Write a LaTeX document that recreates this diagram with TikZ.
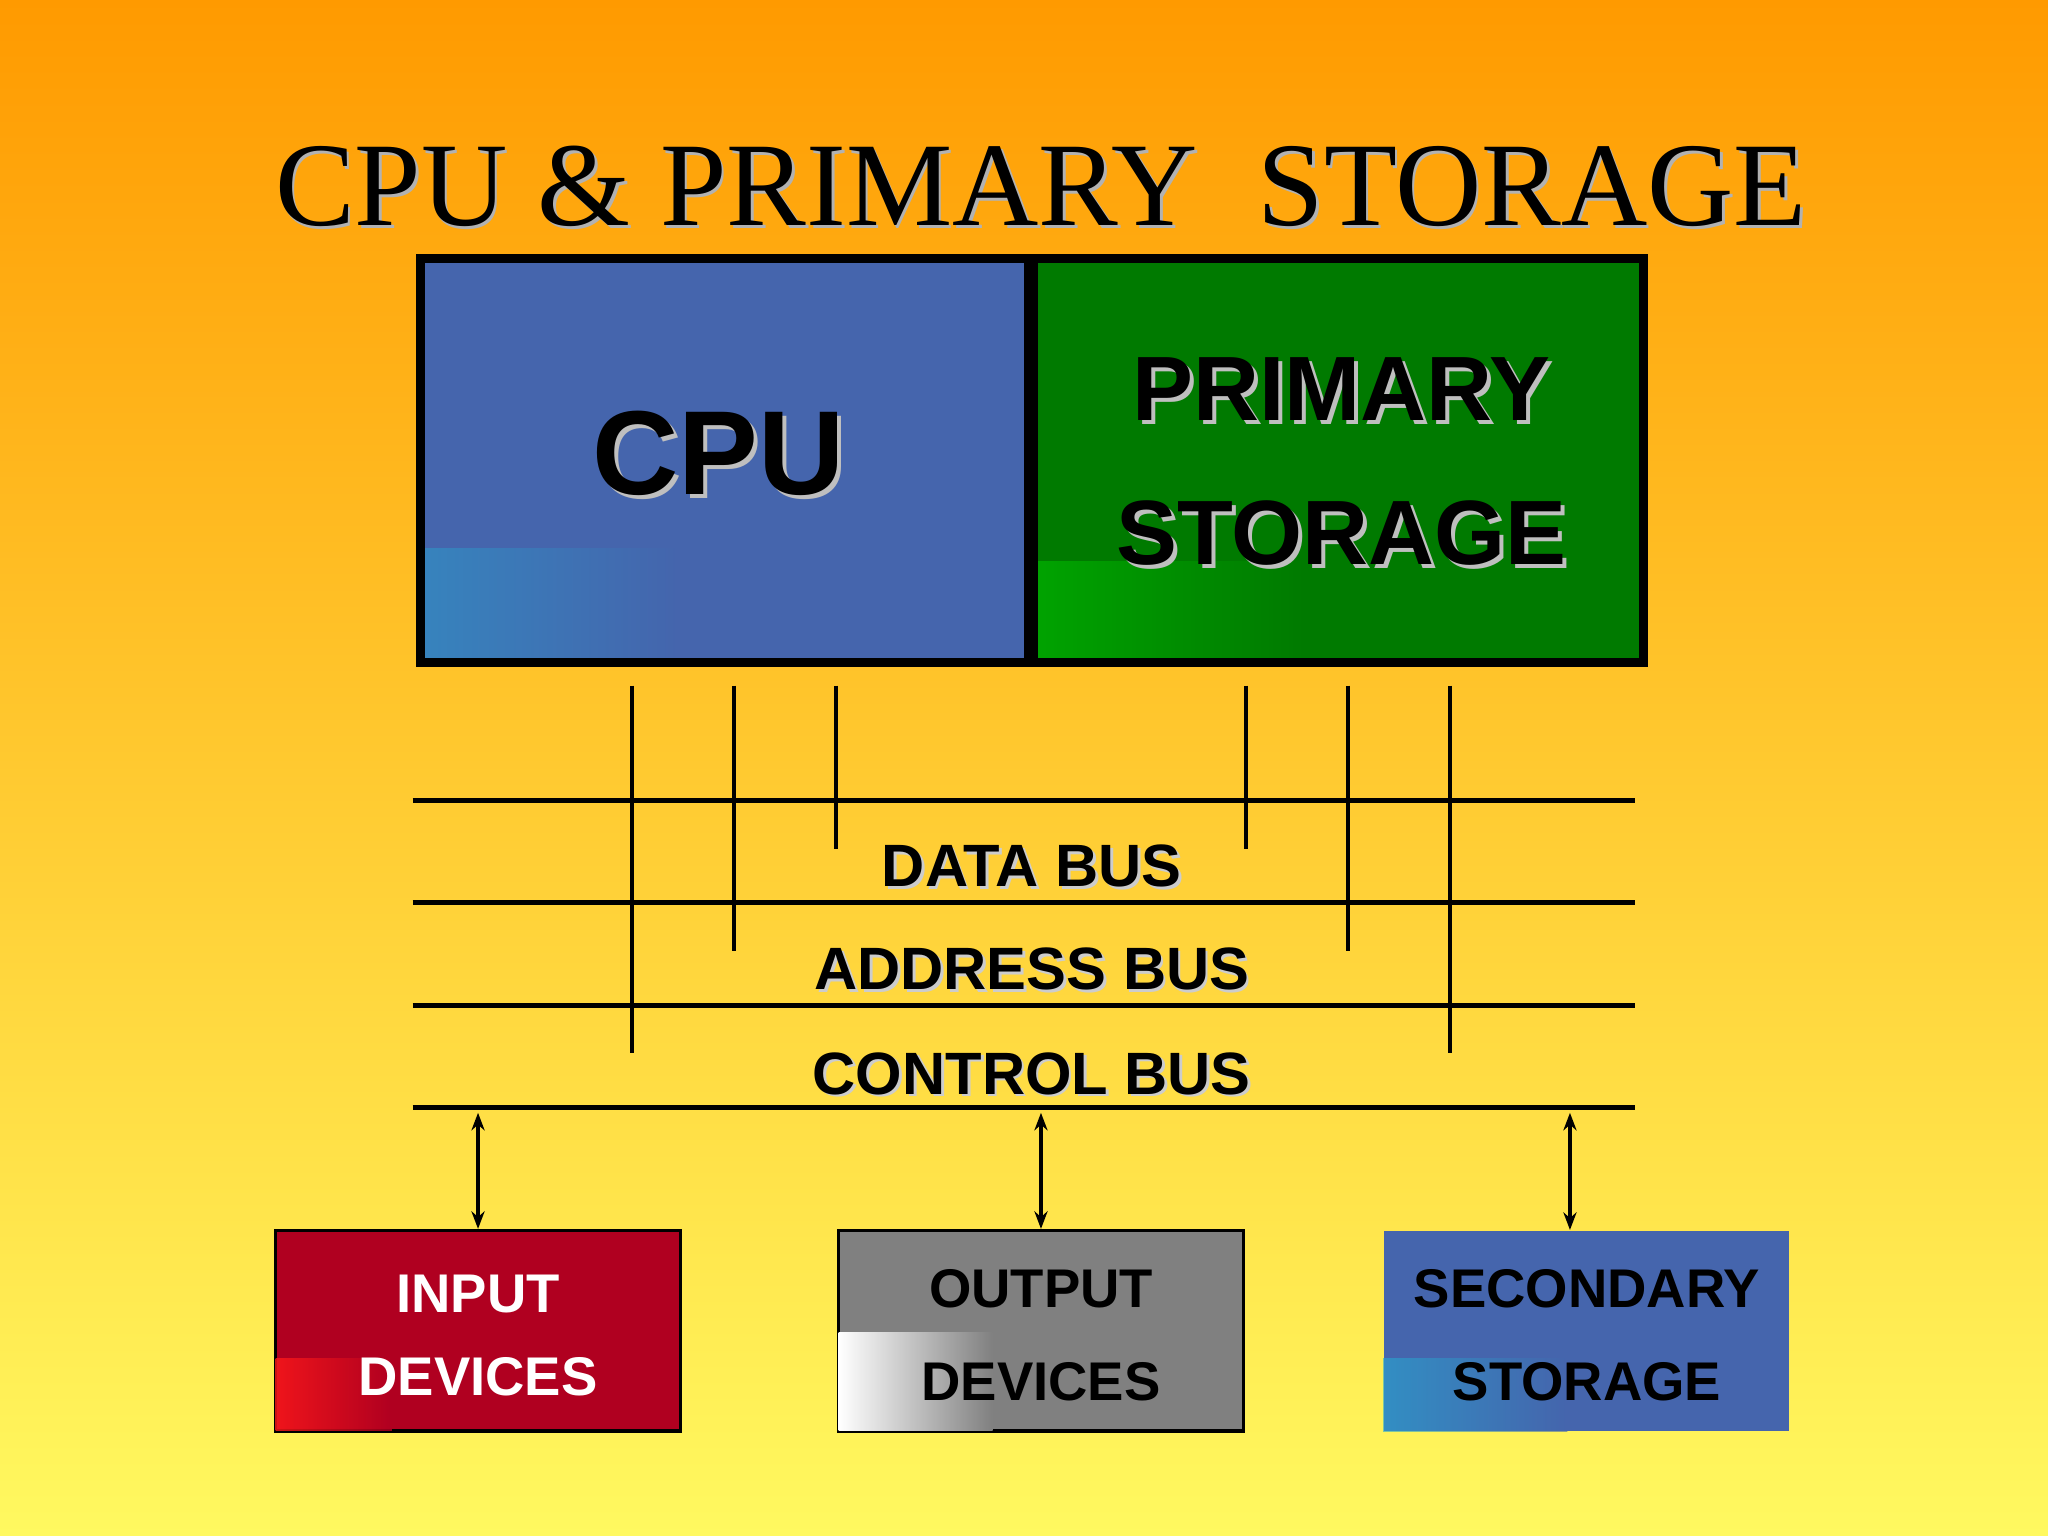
\documentclass[tikz,border=0pt]{standalone}
\usepackage{fontspec}
\setmainfont{Liberation Serif}
\setsansfont{Liberation Sans}
\usetikzlibrary{arrows.meta}
\definecolor{bgtop}{HTML}{FF9A00}
\definecolor{bgbot}{HTML}{FFF960}
\definecolor{cpub}{HTML}{4565AD}
\definecolor{memg}{HTML}{007A00}
\definecolor{inred}{HTML}{B00020}
\definecolor{outg}{HTML}{808080}
\tikzset{
  bus/.style={line width=1.3pt},
  tap/.style={line width=1.3pt},
  dev/.style={minimum width=311\pxu, minimum height=154\pxu, inner sep=0pt},
  lbl/.style={font=\sffamily\bfseries\fontsize{17}{20}\selectfont},
  devtxt/.style={font=\sffamily\bfseries\fontsize{15.5}{18}\selectfont, align=center},
  arr/.style={{Stealth[length=5pt]}-{Stealth[length=5pt]}, line width=0.9pt}
}
\newlength{\pxu}\setlength{\pxu}{0.3706pt}
\begin{document}
\begin{tikzpicture}[x=0.013061cm,y=-0.013061cm]
\shade[top color=bgtop, bottom color=bgbot] (0,0) rectangle (1568,1176);
\useasboundingbox (0,0) rectangle (1568,1176);
% title
\node[font=\fontsize{34}{40}\selectfont, text=gray!60] at (799,145) {CPU \& PRIMARY\ \ STORAGE};
\node[font=\fontsize{34}{40}\selectfont] (title) at (797,143) {CPU \& PRIMARY\ \ STORAGE};
% top boxes
\fill[cpub] (322,198) rectangle (789,507);
\shade[left color=cpub!60!cyan, right color=cpub, opacity=0.5] (322,420) rectangle (520,507);
\fill[memg] (789,198) rectangle (1258,507);
\shade[left color=green!75!black, right color=memg, opacity=0.6] (792,430) rectangle (1000,507);
\draw[line width=2.5pt] (322,198) rectangle (1258,507);
\draw[line width=4pt] (789,198) -- (789,507);
\node (cpu) at (550,347) {};
\node[font=\sffamily\bfseries\fontsize{34}{40}\selectfont, text=gray!50] at (553,350) {CPU};
\node[font=\sffamily\bfseries\fontsize{34}{40}\selectfont] at (550,347) {CPU};
\foreach \t/\yy in {PRIMARY/298, STORAGE/408}{
  \node[font=\sffamily\bfseries\fontsize{26}{30}\selectfont, text=gray!50] at (1030,\yy+3) {\t};
  \node[font=\sffamily\bfseries\fontsize{26}{30}\selectfont] at (1027,\yy) {\t};
}
% buses
\foreach \n/\yy in {d/613, a/691, c/770, k/848}{
  \coordinate (\n L) at (316,\yy); \coordinate (\n R) at (1252,\yy);
  \draw[bus] (\n L) -- (\n R);
}
\foreach \xx/\ye in {484/806, 562/728, 640/650, 954/650, 1032/728, 1110/806}{
  \coordinate (t1) at (\xx,525); \coordinate (t2) at (\xx,\ye);
  \draw[tap] (t1) -- (t2);
}
\foreach \t/\yy in {DATA BUS/663, ADDRESS BUS/742, CONTROL BUS/822}{
  \node[lbl, text=gray!40] at (792,\yy+2) {\t};
  \node[lbl] at (790,\yy) {\t};
}
% devices
\node[dev, fill=inred, draw=black, line width=1pt] (in) at (366,1019) {};
\shade[left color=red!90!white, right color=inred, opacity=0.8] (211,1040) rectangle (300,1095);
\node[devtxt, text=white] at (366,991) {INPUT};
\node[devtxt, text=white] at (366,1054) {DEVICES};
\node[dev, fill=outg, draw=black, line width=1pt] (out) at (797,1019) {};
\shade[left color=white, right color=outg] (642,1020) rectangle (760,1095);
\node[devtxt] at (797,987) {OUTPUT};
\node[devtxt] at (797,1058) {DEVICES};
\node[dev, fill=cpub] (sec) at (1215,1019) {};
\shade[left color=cpub!55!cyan, right color=cpub, opacity=0.6] (1059,1040) rectangle (1200,1096);
\node[devtxt] at (1215,987) {SECONDARY};
\node[devtxt] at (1215,1058) {STORAGE};
% arrows
\coordinate (a1) at (366,852); \coordinate (a2) at (797,852); \coordinate (a3) at (1202,852);
\draw[arr] (a1) -- (in.north -| a1);
\draw[arr] (a2) -- (out.north -| a2);
\draw[arr] (a3) -- (sec.north -| a3);
\end{tikzpicture}
\end{document}
